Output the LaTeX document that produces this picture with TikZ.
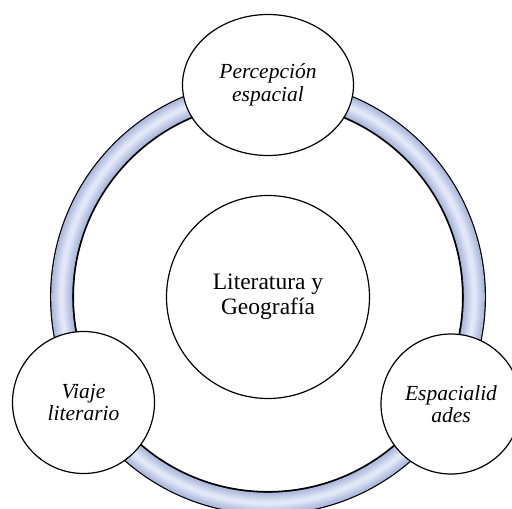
\documentclass[tikz,border=0pt]{standalone}
\usepackage{fontspec}
\setmainfont{Liberation Serif}
\usetikzlibrary{shapes.geometric}
\definecolor{ringedge}{HTML}{ACB8DC}
\definecolor{ringhi}{HTML}{E2E8F8}
\tikzset{
  bubble/.style={draw=black, line width=1.2pt, fill=white, inner sep=0pt, align=center,
    font=\fontsize{21.5}{22.5}\selectfont\itshape},
  hub/.style={circle, draw=black, line width=1.2pt, fill=white, inner sep=0pt, align=center,
    minimum size=203pt, font=\fontsize{23.5}{25.5}\selectfont},
}
\begin{document}
\begin{tikzpicture}[x=1pt,y=-1pt]
\useasboundingbox (0,0) rectangle (512,509);
\clip (0,0) rectangle (512,509);
\coordinate (o) at (268,297);
% ring
\draw[line width=24pt, black] (o) circle[radius=206pt];
\foreach \w/\p in {21/0,19/10,17/20,15/32,13/44,11/56,9/68,7/80,5/90,3/100}
  \draw[line width=\w pt, ringhi!\p!ringedge] (o) circle[radius=206.3pt];
% nodes
\node[hub] (c) at (o) {Literatura y\\Geografía};
\node[bubble, ellipse, minimum width=171pt, minimum height=141pt] (top) at (268,85) {Percepción\\espacial};
\node[bubble, circle, minimum size=142pt] (left) at (83.5,402.5) {Viaje\\literario};
\node[bubble, circle, minimum size=140pt] (right) at (451,404) {Espacialid\\ades};
\end{tikzpicture}
\end{document}
